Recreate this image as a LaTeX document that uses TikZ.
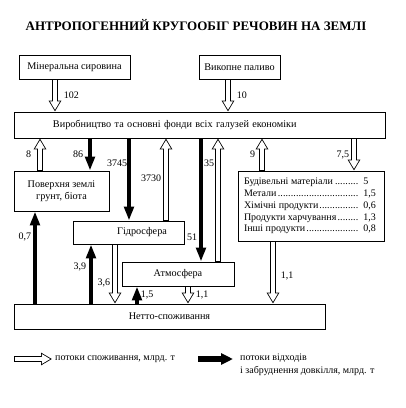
\documentclass[tikz,border=0pt]{standalone}
\usepackage{fontspec}
\setmainfont{Liberation Serif}
\usetikzlibrary{arrows.meta}
\tikzset{
    box/.style={draw, line width=0.9pt, inner sep=0pt, font=\fontsize{10.2}{12}\selectfont}, % the frames
    waste/.style={line width=3.6pt, -{Triangle[length=14pt, width=9.5pt]}}, % black flows
    inflow/.style={line width=5.6pt, -{Triangle[length=11pt, width=12pt]},
        postaction={draw=white, line width=3.8pt, shorten <=0.5pt, shorten >=1.7pt, -{Triangle[length=8.5pt, width=9.3pt]}}}, % hollow flows
    lbl/.style={font=\fontsize{10}{12}\selectfont, inner sep=2pt}, % numbers at the flows
}
\newcommand{\goodsrow}[2]{\makebox[134pt][l]{#1\leaders\hbox to 2.6pt{\hss.\hss}\hfill\makebox[17pt][l]{\ #2}}}

\begin{document}
\begin{tikzpicture}[x=1pt, y=-1pt]
    \useasboundingbox (0,0) rectangle (406,408);
    \node[font=\bfseries\fontsize{13}{15}\selectfont] (title) at (196,25) {АНТРОПОГЕННИЙ КРУГООБІГ РЕЧОВИН НА ЗЕМЛІ};
    \node[box, minimum width=111pt, minimum height=24pt] (mineral) at (74.5,67) {Мінеральна сировина};
    \node[box, minimum width=81pt, minimum height=24pt] (fuel) at (239.5,67) {Викопне паливо};
    \node[box, minimum width=371pt, minimum height=26pt, text width=371pt, align=left] (prod) at (199.5,125) {\hspace*{39pt}Виробництво та основні фонди всіх галузей економіки};
    \node[box, minimum width=95pt, minimum height=40pt, align=center] (surface) at (61.5,191) {Поверхня землі\\грунт, біота};
    \node[box, minimum width=111pt, minimum height=23pt] (hydro) at (128.5,232.5) {\hspace*{27pt}Гідросфера};
    \node[box, minimum width=112pt, minimum height=24pt] (atmo) at (178,274) {Атмосфера};
    \node[box, minimum width=146pt, minimum height=70pt, align=left, font=\fontsize{10}{11.8}\selectfont] (goods) at (311,206) {%
        \goodsrow{Будівельні матеріали}{5}\\
        \goodsrow{Метали}{1,5}\\
        \goodsrow{Хімічні продукти}{0,6}\\
        \goodsrow{Продукти харчування}{1,3}\\
        \goodsrow{Інші продукти}{0,8}};
    \node[box, minimum width=311pt, minimum height=25pt] (net) at (169.5,316.5) {Нетто-споживання};

    % raw materials
    \draw[inflow] (55,0 |- mineral.south) -- node[lbl, right, xshift=4pt] {102} (55,0 |- prod.north);
    \draw[inflow] (228,0 |- fuel.south) -- node[lbl, right, xshift=4pt] {10} (228,0 |- prod.north);
    % production and the spheres
    \draw[inflow] (40,0 |- surface.north) -- node[lbl, left, xshift=-4pt] {8} (40,0 |- prod.south);
    \draw[waste] (90,0 |- prod.south) -- node[lbl, left, xshift=-3pt] {86} (90,0 |- surface.north);
    \draw[waste] (129,0 |- prod.south) -- node[lbl, left, pos=0.3, xshift=2pt] {3745} (129,0 |- hydro.north);
    \draw[inflow] (166,0 |- hydro.north) -- node[lbl, left, pos=0.52] {3730} (166,0 |- prod.south);
    \draw[waste] (201,0 |- prod.south) -- node[lbl, left, pos=0.8] {51} (201,0 |- atmo.north);
    \draw[inflow] (218,0 |- atmo.north) -- node[lbl, left, pos=0.8, inner sep=1pt] {35} (218,0 |- prod.south);
    \draw[inflow] (262,0 |- goods.north) -- node[lbl, left, xshift=-2pt] {9} (262,0 |- prod.south);
    \draw[inflow] (354,0 |- prod.south) -- node[lbl, left] {7,5} (354,0 |- goods.north);
    % consumption
    \draw[waste] (35,0 |- net.north) -- node[lbl, left, pos=0.72] {0,7} (35,0 |- surface.south);
    \draw[waste] (91,0 |- net.north) -- node[lbl, left, pos=0.62, xshift=-1pt] {3,9} (91,0 |- hydro.south);
    \draw[inflow] (115,0 |- hydro.south) -- node[lbl, left, pos=0.65] {3,6} (115,0 |- net.north);
    \draw[waste] (137,0 |- net.north) -- node[lbl, right] {1,5} (137,0 |- atmo.south);
    \draw[inflow] (188,0 |- atmo.south) -- node[lbl, right, xshift=3pt] {1,1} (188,0 |- net.north);
    \draw[inflow] (273,0 |- goods.south) -- node[lbl, right, pos=0.55, xshift=3pt] {1,1} (273,0 |- net.north);

    % legend
    \coordinate (in a) at (14,359);
    \coordinate (in b) at (52,359);
    \coordinate (out a) at (198,359);
    \coordinate (out b) at (233,359);
    \draw[inflow] (in a) -- (in b);
    \node[lbl, anchor=west] (in text) at (53,359) {потоки споживання, млрд. т};
    \draw[waste, line width=5.5pt, -{Triangle[length=12pt, width=11pt]}] (out a) -- (out b);
    \node[lbl, anchor=north west, align=left, font=\fontsize{10}{12.5}\selectfont] (out text) at (238,352) {потоки відходів\\і забруднення довкілля, млрд. т};
\end{tikzpicture}
\end{document}
